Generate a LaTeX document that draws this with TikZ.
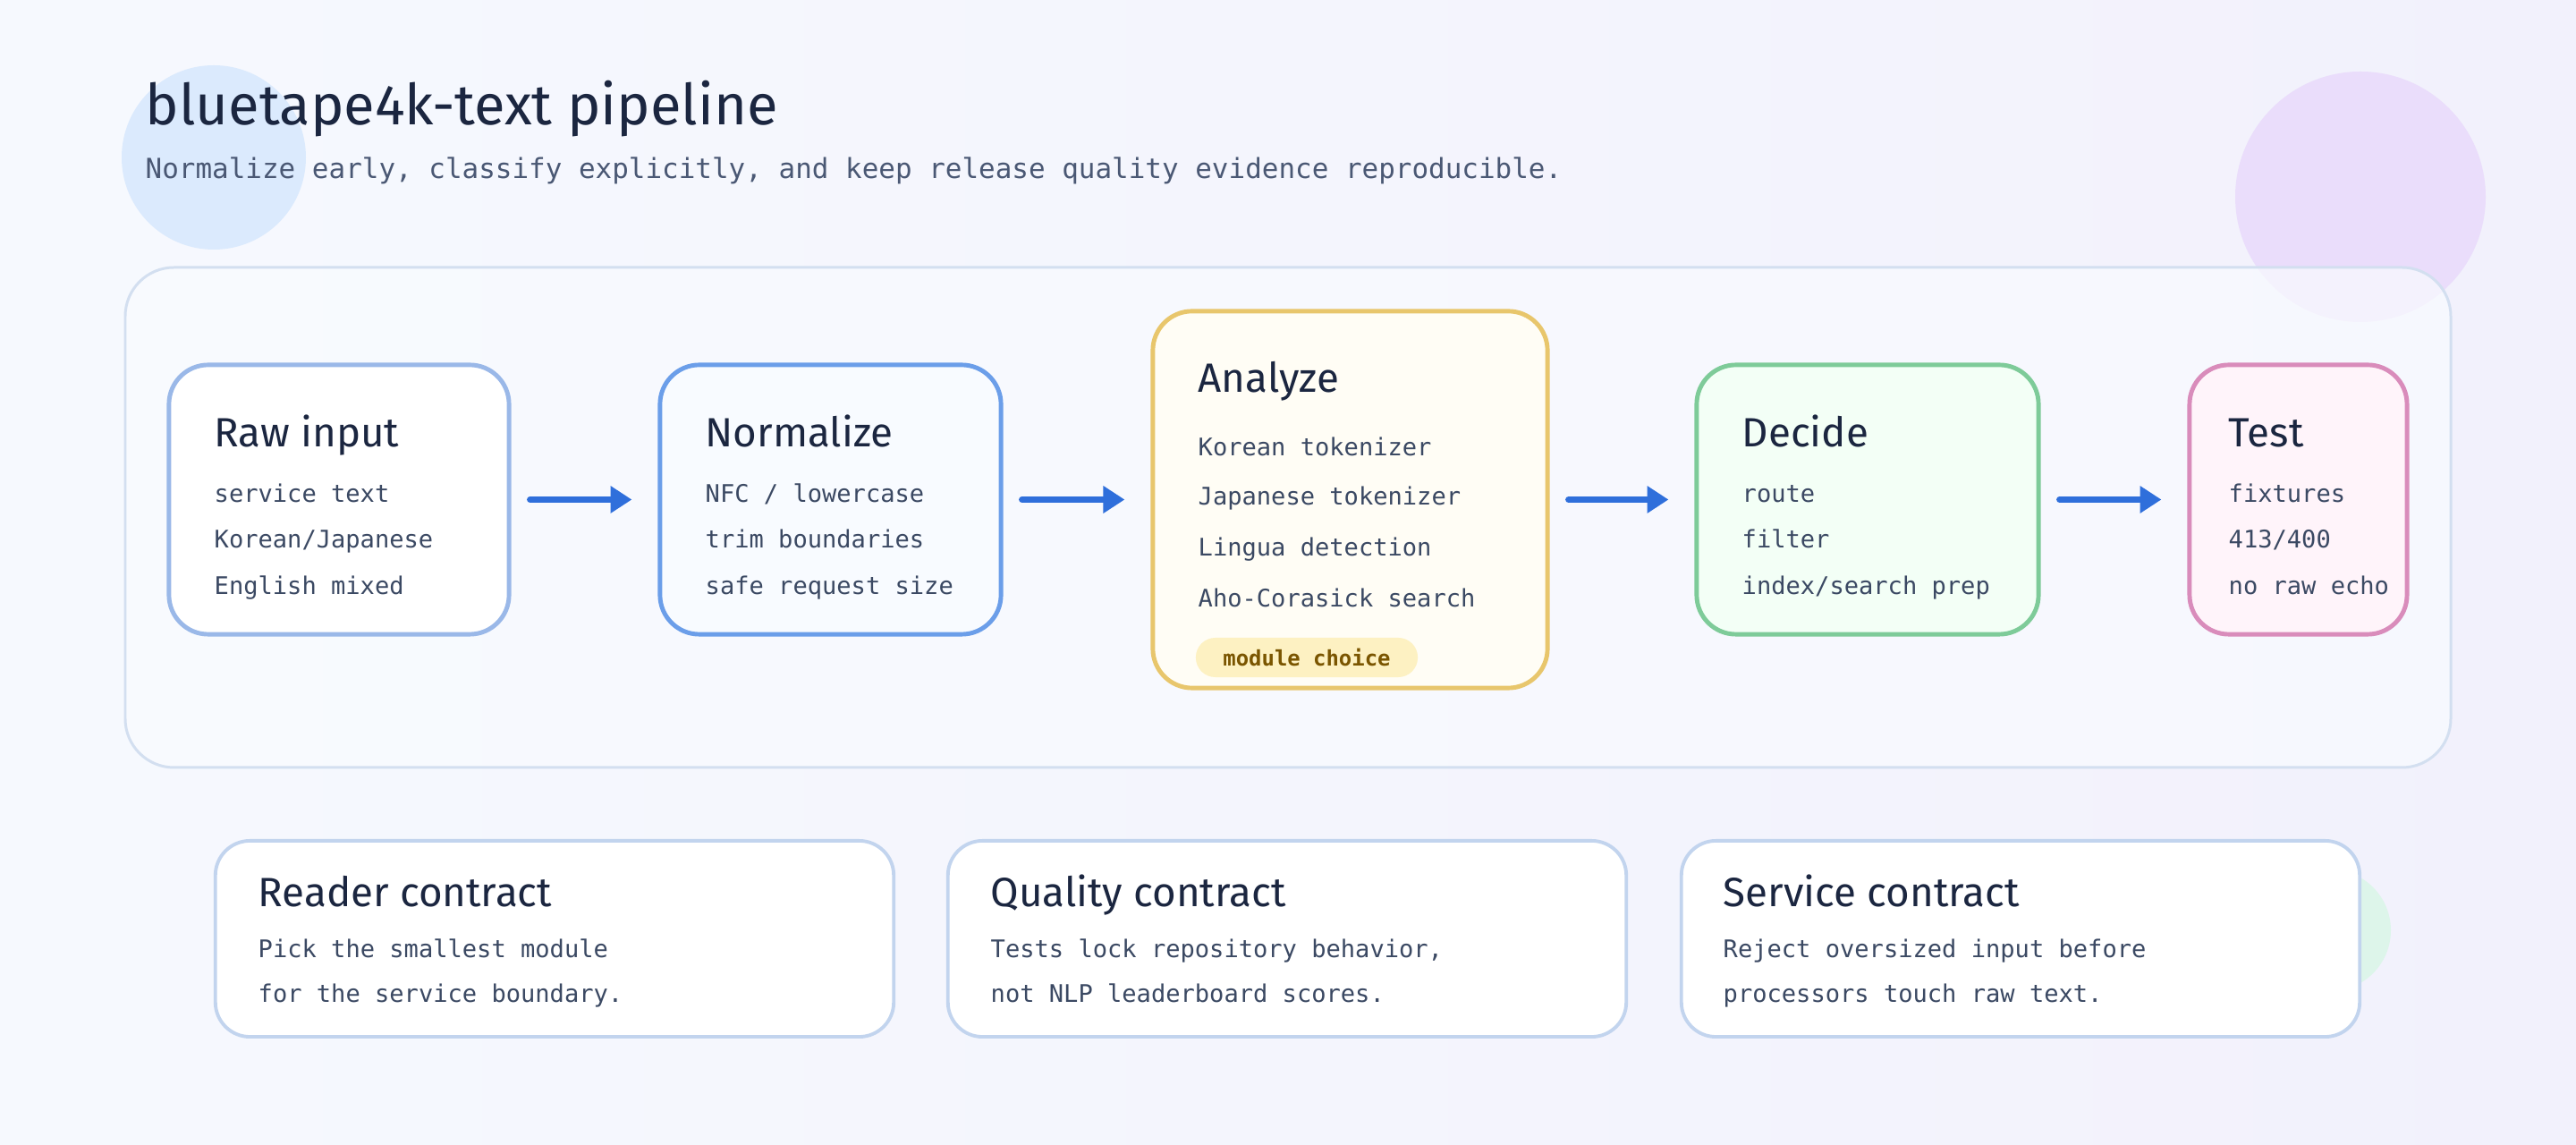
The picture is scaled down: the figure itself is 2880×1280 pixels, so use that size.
\documentclass[tikz,border=0pt]{standalone}
\usepackage{fontspec}
\setmainfont{Fira Sans}
\setmonofont{DejaVu Sans Mono}
\usepackage{xcolor}
\usetikzlibrary{arrows.meta}

\definecolor{inkC}{HTML}{1B2640}
\definecolor{bodyC}{HTML}{3B4963}
\definecolor{subC}{HTML}{4A5874}
\definecolor{flowC}{HTML}{2F6FDB}
\definecolor{rawC}{HTML}{9AB8E8}
\definecolor{normC}{HTML}{6B9EE9}
\definecolor{normF}{HTML}{F8FBFF}
\definecolor{anaC}{HTML}{E8C66C}
\definecolor{anaF}{HTML}{FFFDF5}
\definecolor{decC}{HTML}{7ECB99}
\definecolor{decF}{HTML}{F3FFF6}
\definecolor{testC}{HTML}{D98CBB}
\definecolor{testF}{HTML}{FFF4FA}
\definecolor{panelC}{HTML}{D3DFF0}
\definecolor{panelF}{HTML}{F9FBFF}
\definecolor{cardC}{HTML}{C2D4EE}
\definecolor{pillF}{HTML}{FDF1C2}
\definecolor{pillT}{HTML}{7A5500}
\definecolor{bgA}{HTML}{F6F9FE}
\definecolor{bgB}{HTML}{F2F1FC}
\definecolor{blobB}{HTML}{DBEAFD}
\definecolor{blobP}{HTML}{EADDFB}
\definecolor{blobG}{HTML}{DDF5EA}

\begin{document}
\begin{tikzpicture}[x=0.01cm, y=-0.01cm,
    stage/.style={draw, line width=1.4pt, rounded corners=12.5pt, inner sep=0pt},
    card/.style={draw=cardC, fill=white, line width=1.1pt, rounded corners=11pt,
        minimum width=7.58cm, minimum height=2.19cm, inner sep=0pt},
    head/.style={anchor=base west, inner sep=0pt, text=inkC, font=\fontsize{13}{15}\selectfont},
    line/.style={anchor=base west, inner sep=0pt, text=bodyC, font=\ttfamily\fontsize{7.7}{9}\selectfont},
    flow/.style={draw=flowC, line width=2pt, line cap=round,
        -{Triangle[length=6.8pt,width=8.3pt]}, shorten <=0.21cm, shorten >=0.29cm}]

    % Background and blobs
    \shade[shading=axis, shading angle=120, left color=bgA, right color=bgB]
        (0,0) rectangle (2880,1280);
    \useasboundingbox (0,0) rectangle (2880,1280);
    \fill[blobB] (239,176) circle (103);
    \fill[blobP] (2639,220) circle (140);
    \fill[blobG] (2605,1040) circle (68);

    % Heading
    \node[anchor=base west, inner sep=0pt, text=inkC, font=\fontsize{18}{20}\selectfont]
        (title) at (162,140) {bluetape4k-text pipeline};
    \node[anchor=base west, inner sep=0pt, text=subC, font=\ttfamily\fontsize{8.8}{10}\selectfont]
        (sub) at (162,200) {Normalize early, classify explicitly, and keep release quality evidence reproducible.};

    % Panel
    \draw[draw=panelC, fill=panelF, fill opacity=0.7, line width=0.85pt, rounded corners=15.5pt]
        (140,299) rectangle (2740,858);

    % Stages
    \node[stage, draw=rawC, fill=white, minimum width=3.80cm, minimum height=3.01cm] (raw) at (379,558.5) {};
    \node[stage, draw=normC, fill=normF, minimum width=3.81cm, minimum height=3.01cm] (norm) at (928.5,558.5) {};
    \node[stage, draw=anaC, fill=anaF, minimum width=4.41cm, minimum height=4.21cm] (ana) at (1509.5,558.5) {};
    \node[stage, draw=decC, fill=decF, minimum width=3.82cm, minimum height=3.01cm] (dec) at (2088,558.5) {};
    \node[stage, draw=testC, fill=testF, minimum width=2.43cm, minimum height=3.01cm] (tst) at (2569.5,558.5) {};

    \node[head] (rawT) at (239,500) {Raw input};
    \node[line] (raw1) at (239,562) {service text};
    \node[line] (raw2) at (239,613) {Korean/Japanese};
    \node[line] (raw3) at (239,665) {English mixed};

    \node[head] (normT) at (788,500) {Normalize};
    \node[line] (norm1) at (788,562) {NFC / lowercase};
    \node[line] (norm2) at (788,613) {trim boundaries};
    \node[line] (norm3) at (788,665) {safe request size};

    \node[head] (anaT) at (1339,439) {Analyze};
    \node[line] (ana1) at (1339,510) {Korean tokenizer};
    \node[line] (ana2) at (1339,565) {Japanese tokenizer};
    \node[line] (ana3) at (1339,622) {Lingua detection};
    \node[line] (ana4) at (1339,679) {Aho-Corasick search};
    \node[fill=pillF, rounded corners=6.2pt, minimum width=2.48cm, minimum height=0.44cm, inner sep=0pt,
        text=pillT, font=\ttfamily\bfseries\fontsize{6.8}{8}\selectfont] (pill) at (1461,735) {module choice};

    \node[head] (decT) at (1947,500) {Decide};
    \node[line] (dec1) at (1947,562) {route};
    \node[line] (dec2) at (1947,613) {filter};
    \node[line] (dec3) at (1947,665) {index/search prep};

    \node[head] (tstT) at (2491,500) {Test};
    \node[line] (tst1) at (2491,562) {fixtures};
    \node[line] (tst2) at (2491,613) {413/400};
    \node[line] (tst3) at (2491,665) {no raw echo};

    % Draw the flow
    \draw[flow] (raw) -- (norm);
    \draw[flow] (norm) -- (ana);
    \draw[flow] (ana) -- (dec);
    \draw[flow] (dec) -- (tst);

    % Contract cards
    \node[card] (reader) at (620,1049.5) {};
    \node[card] (quality) at (1439,1049.5) {};
    \node[card] (service) at (2259,1049.5) {};

    \node[head] (readerT) at (288,1014) {Reader contract};
    \node[line] (reader1) at (288,1071) {Pick the smallest module};
    \node[line] (reader2) at (288,1121) {for the service boundary.};

    \node[head] (qualityT) at (1107,1014) {Quality contract};
    \node[line] (quality1) at (1107,1071) {Tests lock repository behavior,};
    \node[line] (quality2) at (1107,1121) {not NLP leaderboard scores.};

    \node[head] (serviceT) at (1926,1014) {Service contract};
    \node[line] (service1) at (1926,1071) {Reject oversized input before};
    \node[line] (service2) at (1926,1121) {processors touch raw text.};
\end{tikzpicture}
\end{document}
